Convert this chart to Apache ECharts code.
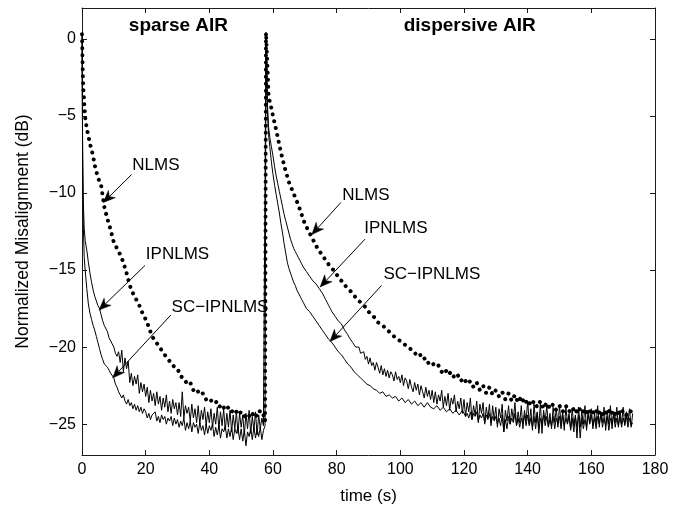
<!DOCTYPE html>
<html><head><meta charset="utf-8">
<script src="https://cdn.jsdelivr.net/npm/echarts@6/dist/echarts.min.js"></script>
<style>html,body{margin:0;padding:0;background:#fff}#c{width:673px;height:510px}</style>
</head><body><div id="c"></div>
<script>
// ---- data (time in s, normalized misalignment in dB) ----
// sample times of the two solid curves (IPNLMS, SC-IPNLMS)
const timeSolid = [0,0.2,0.4,0.7,
 1,1.5,2,2.5,3,3.5,4,4.5,5,5.5,6,6.5,7,7.5,8,8.5,9,9.5,
 10,10.5,11,11.5,12,12.5,13,13.5,14,14.5,15,15.5,16,16.5,17,17.5,18,18.5,19,19.5,
 20,20.5,21,21.5,22,22.5,23,23.5,24,24.5,25,25.5,26,26.5,27,27.5,28,28.5,29,29.5,
 30,30.5,31,31.5,32,32.5,33,33.5,34,34.5,35,35.5,36,36.5,37,37.5,38,38.5,39,39.5,
 40,40.5,41,41.5,42,42.5,43,43.5,44,44.5,45,45.5,46,46.5,47,47.5,48,48.5,49,49.5,
 50,50.5,51,51.5,52,52.5,53,53.5,54,54.5,55,55.5,56,56.5,57,57.5,
 57.8,
 58.2,58.6,59,59.5,
 60,60.5,61,61.5,62,62.5,63,63.5,64,64.5,65,65.5,66,66.5,67,67.5,68,68.5,69,69.5,
 70,70.5,71,71.5,72,72.5,73,73.5,74,74.5,75,75.5,76,76.5,77,77.5,78,78.5,79,79.5,
 80,80.5,81,81.5,82,82.5,83,83.5,84,84.5,85,85.5,86,86.5,87,87.5,88,88.5,89,89.5,
 90,90.5,91,91.5,92,92.5,93,93.5,94,94.5,95,95.5,96,96.5,97,97.5,98,98.5,99,99.5,
 100,100.5,101,101.5,102,102.5,103,103.5,104,104.5,105,105.5,106,106.5,107,107.5,108,108.5,109,109.5,
 110,110.5,111,111.5,112,112.5,113,113.5,114,114.5,115,115.5,116,116.5,117,117.5,118,118.5,119,119.5,
 120,120.5,121,121.5,122,122.5,123,123.5,124,124.5,125,125.5,126,126.5,127,127.5,128,128.5,129,129.5,
 130,130.5,131,131.5,132,132.5,133,133.5,134,134.5,135,135.5,136,136.5,137,137.5,138,138.5,139,139.5,
 140,140.5,141,141.5,142,142.5,143,143.5,144,144.5,145,145.5,146,146.5,147,147.5,148,148.5,149,149.5,
 150,150.5,151,151.5,152,152.5,153,153.5,154,154.5,155,155.5,156,156.5,157,157.5,158,158.5,159,159.5,
 160,160.5,161,161.5,162,162.5,163,163.5,164,164.5,165,165.5,166,166.5,167,167.5,168,168.5,169,169.5,
 170,170.5,171,171.5,172,172.5,173];

const ipnlms = [0.3,-7.0,-10.5,-12.3,
 -13.1,-13.7,-14.5,-15.2,-15.8,-16.3,-16.7,-17.0,-17.3,-17.5,-17.9,-18.3,-18.6,-18.7,-19.0,-19.4,-19.6,-19.7,
 -20.0,-20.4,-20.6,-20.3,-21.0,-20.2,-21.6,-20.7,-21.4,-20.9,-22.3,-21.7,-22.5,-21.9,-22.4,-21.8,-23.0,-22.3,-22.9,-22.4,
 -23.2,-22.6,-23.6,-22.8,-23.5,-23.0,-23.8,-22.9,-23.7,-23.2,-24.1,-23.3,-23.9,-23.1,-24.2,-23.5,-24.3,-23.4,-24.0,-23.6,
 -24.4,-23.6,-24.5,-22.9,-24.6,-23.8,-24.3,-23.9,-24.8,-23.7,-24.6,-24.0,-24.9,-23.8,-25.0,-24.1,-24.7,-23.9,-25.1,-24.2,
 -24.9,-24.0,-25.2,-24.3,-25.0,-23.9,-25.3,-24.2,-25.1,-24.0,-25.4,-24.3,-25.2,-24.1,-25.5,-24.4,-25.3,-24.2,-25.6,-24.3,
 -25.2,-24.4,-25.7,-24.3,-25.3,-24.1,-25.6,-24.5,-25.4,-24.2,-25.7,-24.4,-25.3,-24.6,-25.1,-25.0,
 0.4,
 -4.0,-5.7,-6.4,-7.0,
 -7.6,-8.3,-8.9,-9.4,-9.9,-10.4,-10.9,-11.4,-11.8,-12.2,-12.6,-13.0,-13.3,-13.6,-13.8,-14.0,-14.2,-14.4,-14.6,-14.8,
 -14.9,-15.1,-15.2,-15.4,-15.5,-15.7,-15.8,-15.9,-16.0,-16.2,-16.3,-16.5,-16.7,-16.9,-17.1,-17.3,-17.5,-17.7,-17.8,-18.0,
 -18.1,-18.3,-18.4,-18.5,-18.7,-18.9,-19.0,-19.2,-19.4,-19.4,-19.7,-19.6,-20.0,-20.1,-20.0,-20.4,-20.5,-20.3,-20.8,-20.6,
 -21.1,-20.7,-21.2,-21.0,-21.5,-21.0,-21.3,-21.7,-21.2,-21.8,-21.4,-21.9,-21.5,-22.0,-21.6,-21.8,-22.2,-21.6,-22.1,-21.9,
 -22.3,-21.8,-22.5,-22.0,-22.2,-22.7,-22.1,-22.6,-22.9,-22.3,-22.8,-22.4,-23.1,-22.5,-22.9,-23.3,-22.6,-23.2,-22.8,-23.4,
 -22.8,-23.6,-22.9,-23.7,-23.1,-23.5,-22.8,-23.9,-23.2,-23.8,-23.0,-24.1,-23.3,-23.7,-23.1,-24.2,-23.5,-24.0,-23.3,-24.3,
 -23.4,-24.5,-23.6,-24.2,-23.3,-24.7,-23.8,-24.4,-23.5,-24.9,-23.7,-24.3,-23.6,-25.0,-23.9,-24.6,-23.7,-25.1,-23.8,-24.7,
 -23.9,-25.2,-24.0,-24.6,-23.7,-25.5,-24.1,-24.8,-23.8,-25.0,-24.0,-24.7,-23.6,-25.1,-24.2,-24.9,-23.8,-25.3,-24.1,-24.8,
 -23.5,-25.0,-24.0,-25.4,-23.7,-24.9,-24.2,-25.2,-23.6,-25.6,-24.1,-24.8,-23.8,-25.1,-24.3,-25.3,-23.9,-24.9,-24.0,-25.2,
 -23.8,-25.0,-24.2,-25.4,-23.9,-24.9,-24.3,-25.3,-24.0,-25.1,-24.4,-25.9,-23.9,-25.2,-24.2,-25.0,-23.8,-25.4,-24.1,-24.9,
 -24.0,-25.3,-24.3,-25.0,-23.8,-25.2,-24.2,-24.9,-23.9,-25.4,-24.1,-25.0,-23.8,-25.3,-24.2,-24.9,-23.9,-25.2,-24.1,-25.0,
 -23.9,-25.1,-24.2,-24.9,-24.0,-25.2,-24.3];

const scIpnlms = [0.3,-8.0,-12.0,-14.2,
 -15.0,-16.2,-17.2,-17.8,-18.2,-18.6,-18.9,-19.3,-19.7,-20.1,-20.5,-20.8,-21.1,-21.0,-21.3,-21.5,-21.7,-21.6,
 -22.0,-22.4,-22.6,-22.9,-23.0,-23.3,-23.1,-23.5,-23.7,-23.4,-23.8,-23.6,-24.0,-23.7,-24.1,-23.8,-24.2,-23.9,-24.3,-24.0,
 -24.2,-24.6,-24.3,-24.7,-24.4,-24.5,-24.2,-24.8,-24.5,-24.9,-24.4,-24.7,-24.5,-25.0,-24.6,-24.8,-24.5,-25.1,-24.6,-25.0,
 -24.7,-25.2,-24.8,-25.1,-24.6,-25.4,-24.9,-25.3,-24.8,-25.5,-24.9,-25.2,-25.0,-25.6,-24.9,-25.4,-25.1,-25.7,-25.0,-25.6,
 -25.1,-25.4,-25.0,-25.8,-25.2,-25.7,-25.1,-25.9,-25.3,-25.5,-25.1,-25.9,-25.3,-25.8,-25.2,-26.0,-25.3,-25.6,-25.2,-26.0,
 -25.3,-26.1,-25.4,-26.4,-25.5,-25.8,-25.3,-26.0,-25.2,-25.9,-25.3,-25.8,-25.2,-26.0,-25.4,-25.1,
 0.4,
 -4.5,-6.2,-7.0,-8.0,
 -8.8,-9.5,-10.1,-10.7,-11.3,-12.0,-12.6,-13.3,-13.9,-14.5,-14.9,-15.2,-15.5,-15.8,-16.0,-16.3,-16.5,-16.7,-16.9,-17.1,
 -17.3,-17.5,-17.6,-17.7,-17.8,-18.0,-18.1,-18.3,-18.4,-18.6,-18.7,-18.9,-19.0,-19.2,-19.3,-19.5,-19.6,-19.7,-19.8,-20.0,
 -20.1,-20.3,-20.4,-20.5,-20.6,-20.8,-20.9,-21.1,-21.2,-21.3,-21.4,-21.6,-21.7,-21.8,-21.9,-22.0,-22.1,-22.2,-22.3,-22.4,
 -22.5,-22.5,-22.6,-22.7,-22.8,-22.8,-22.9,-23.0,-23.1,-22.9,-23.0,-23.2,-23.2,-23.1,-23.1,-23.3,-23.4,-23.2,-23.3,-23.5,
 -23.5,-23.3,-23.4,-23.6,-23.6,-23.4,-23.4,-23.7,-23.6,-23.5,-23.5,-23.8,-23.7,-23.6,-23.6,-23.9,-23.8,-23.6,-23.7,-23.9,
 -23.8,-24.0,-23.9,-23.8,-23.8,-24.1,-24.0,-23.9,-23.9,-24.2,-24.1,-24.0,-24.0,-24.3,-24.2,-24.1,-24.1,-24.4,-24.3,-24.1,
 -24.2,-24.5,-24.3,-24.6,-24.2,-24.7,-24.3,-24.5,-24.2,-24.8,-24.4,-24.6,-24.3,-24.9,-24.4,-24.7,-24.3,-24.9,-24.5,-24.8,
 -24.5,-25.0,-24.6,-25.1,-24.4,-25.5,-24.7,-25.3,-24.5,-25.0,-24.6,-24.9,-24.3,-25.1,-24.6,-25.2,-24.6,-25.0,-24.4,-25.1,
 -24.4,-25.1,-24.6,-25.2,-24.5,-25.3,-24.3,-25.6,-24.6,-25.0,-24.4,-25.1,-24.5,-25.2,-24.7,-25.1,-24.5,-25.3,-24.6,-25.0,
 -24.5,-25.3,-24.4,-25.1,-24.6,-25.0,-24.5,-25.4,-24.6,-25.5,-24.5,-25.2,-24.4,-25.9,-24.6,-25.3,-24.7,-25.2,-24.4,-25.0,
 -24.4,-25.1,-24.6,-25.3,-24.5,-25.0,-24.3,-25.2,-24.6,-25.1,-24.5,-25.4,-24.6,-25.0,-24.4,-25.2,-24.6,-25.1,-24.5,-25.2,
 -24.6,-25.0,-24.5,-25.2,-24.6,-25.1,-24.9];

// sample times of the dotted NLMS curve
const timeNlms = [0,0.2,0.4,0.7,1,1.5,2,2.5,3,3.5,4,
 5,6,7,8,9,10,11,12,13,14,
 15,16,17,18,19,20,21,22,23,24,
 25,26,27,28,29,30,31,32,33,34,
 35,36,37,38,39,40,41,42,43,44,
 45,46,47,48,49,50,51,52,53,54,
 55,56,57,
 57.5,
 57.8,
 58.2,58.6,59,59.5,60,
 61,62,63,64,65,66,67,68,69,70,
 71,72,73,74,75,76,77,78,79,80,
 81,82,83,84,85,86,87,88,89,90,
 91,92,93,94,95,96,97,98,99,100,
 101,102,103,104,105,106,107,108,109,110,
 111,112,113,114,115,116,117,118,119,120,
 121,122,123,124,125,126,127,128,129,130,
 131,132,133,134,135,136,137,138,139,140,
 141,142,143,144,145,146,147,148,149,150,
 151,152,153,154,155,156,157,158,159,160,
 161,162,163,164,165,166,167,168,169,170,
 171,172,173];

const nlms = [0.3,-1.8,-3.2,-4.1,-5.1,-5.8,-6.3,-6.8,-7.2,-7.6,-8.2,
 -9.0,-9.5,-10.9,-11.7,-12.4,-13.2,-13.6,-14.0,-14.5,-15.2,
 -16.0,-16.5,-16.9,-17.3,-17.8,-18.2,-18.7,-19.3,-19.6,-19.9,
 -20.2,-20.5,-20.8,-21.0,-21.3,-21.4,-21.9,-22.0,-22.4,-22.3,
 -22.8,-22.7,-23.1,-23.0,-23.4,-23.3,-23.6,-23.5,-23.9,-23.7,
 -24.1,-23.9,-24.2,-24.0,-24.4,-24.2,-24.5,-24.3,-24.6,-24.2,
 -24.5,-24.1,-24.4,
 -24.8,
 0.4,
 -1.5,-3.6,-4.1,-4.5,-5.0,
 -5.9,-6.9,-7.8,-8.6,-9.3,-9.8,-10.3,-10.8,-11.4,-12.0,
 -12.4,-12.8,-13.2,-13.6,-13.9,-14.2,-14.5,-14.8,-15.0,-15.3,
 -15.6,-15.8,-16.1,-16.3,-16.5,-16.8,-17.0,-17.2,-17.4,-17.7,
 -17.9,-18.1,-18.4,-18.5,-18.7,-18.9,-19.1,-19.3,-19.5,-19.6,
 -19.8,-19.9,-20.1,-20.2,-20.5,-20.4,-20.8,-20.7,-21.1,-21.0,
 -21.3,-21.2,-21.6,-21.4,-21.8,-21.6,-22.0,-21.8,-22.2,-22.0,
 -22.4,-22.2,-22.6,-22.3,-22.8,-22.5,-23.0,-22.6,-23.1,-22.8,
 -23.2,-22.9,-23.4,-23.0,-23.5,-23.1,-23.6,-23.2,-23.7,-23.4,
 -23.8,-23.5,-23.9,-23.5,-24.0,-23.6,-24.0,-23.7,-24.1,-23.8,
 -24.2,-23.8,-24.2,-23.9,-24.3,-23.9,-24.3,-24.0,-24.4,-24.0,
 -24.4,-24.0,-24.5,-24.1,-24.4,-24.0,-24.5,-24.1,-24.4,-24.1,
 -24.4,-24.1,-24.3];

const xTicks = {min: 0, max: 180, interval: 20};
const yTickValues = [-25, -20, -15, -10, -5, 0];
const yRange = {min: -27, max: 2};

// annotations (data coordinates)
const annText  = ['NLMS', 'IPNLMS', 'SC\u2212IPNLMS', 'NLMS', 'IPNLMS', 'SC\u2212IPNLMS'];
const annLabel = [[23.2,-8.18],[30.0,-14.0],[43.35,-17.39],[89.2,-10.14],[98.6,-12.3],[109.9,-15.26]];
const annFrom  = [[15.6,-8.8],[19.8,-14.7],[27.9,-17.92],[81.3,-10.62],[88.9,-13.0],[94.1,-16.0]];
const annTip   = [[6.7,-10.62],[5.34,-17.6],[9.64,-22.0],[72.2,-12.7],[74.8,-16.1],[77.9,-19.64]];
const panelTitles = ['sparse AIR', 'dispersive AIR'];
const panelTitlePos = [[30.3, 0.86], [121.8, 0.84]];

// ---- chart ----
const FONT = '"Liberation Sans", Arial, Helvetica, sans-serif';
const AX = '#1a1a1a';
const fmtY = v => (v < 0 ? '\u2212' : '') + Math.abs(v);
const pairs = (ts, arr) => ts.map((t, i) => [t, arr[i]]);

const chart = echarts.init(document.getElementById('c'), null, {renderer: 'canvas'});
const baseX = {
  type: 'value', min: xTicks.min, max: xTicks.max, interval: xTicks.interval,
  axisLine: {show: true, onZero: false, lineStyle: {color: AX, width: 1}},
  axisTick: {show: true, inside: true, length: 5, lineStyle: {color: AX, width: 1}},
  splitLine: {show: false}
};
const baseY = {
  type: 'value', min: yRange.min, max: yRange.max,
  axisLine: {show: true, onZero: false, lineStyle: {color: AX, width: 1}},
  axisTick: {show: true, inside: true, length: 5, customValues: yTickValues, lineStyle: {color: AX, width: 1}},
  splitLine: {show: false}
};
const option = {
  animation: false,
  backgroundColor: '#fff',
  grid: {left: 82, right: 18, top: 8, bottom: 51, containLabel: false},
  xAxis: [
    Object.assign({}, baseX, {
      position: 'bottom',
      axisLabel: {color: '#000', fontSize: 16, fontFamily: FONT, margin: 7},
      name: 'time (s)', nameLocation: 'middle', nameGap: 33,
      nameTextStyle: {color: '#000', fontSize: 17, fontFamily: FONT}
    }),
    Object.assign({}, baseX, {position: 'top', axisLabel: {show: false}})
  ],
  yAxis: [
    Object.assign({}, baseY, {
      position: 'left',
      axisLabel: {color: '#000', fontSize: 16, fontFamily: FONT, margin: 6, customValues: yTickValues, formatter: fmtY},
      name: 'Normalized Misalignment (dB)', nameLocation: 'middle', nameGap: 50,
      nameTextStyle: {color: '#000', fontSize: 17.5, fontFamily: FONT}
    }),
    Object.assign({}, baseY, {position: 'right', axisLabel: {show: false}})
  ],
  series: [
    {name: 'IPNLMS', type: 'line', data: pairs(timeSolid, ipnlms), symbol: 'none', silent: true,
     lineStyle: {color: '#000', width: 1}},
    {name: 'SC-IPNLMS', type: 'line', data: pairs(timeSolid, scIpnlms), symbol: 'none', silent: true,
     lineStyle: {color: '#000', width: 1}},
    {name: 'NLMS', type: 'line', data: pairs(timeNlms, nlms), symbol: 'none', silent: true,
     lineStyle: {color: '#000', width: 4, type: [0.01, 7], cap: 'round'}}
  ]
};
chart.setOption(option);

function drawAnnotations() {
  const g = [];
  const px = p => chart.convertToPixel({gridIndex: 0}, p);
  for (let i = 0; i < annText.length; i++) {
    const a = px(annFrom[i]), b = px(annTip[i]), c = px(annLabel[i]);
    const dx = b[0] - a[0], dy = b[1] - a[1], L = Math.hypot(dx, dy);
    const ux = dx / L, uy = dy / L, nx = -uy, ny = ux;
    const len = 12, hw = 5, notch = 3.5;
    const bx = b[0] - ux * len, by = b[1] - uy * len;
    const mx = b[0] - ux * (len - notch), my = b[1] - uy * (len - notch);
    g.push({type: 'line', silent: true, shape: {x1: a[0], y1: a[1], x2: mx, y2: my},
            style: {stroke: '#000', lineWidth: 1}});
    g.push({type: 'polygon', silent: true,
            shape: {points: [[b[0], b[1]], [bx + nx * hw, by + ny * hw], [mx, my], [bx - nx * hw, by - ny * hw]]},
            style: {fill: '#000', stroke: '#000', lineWidth: 0.5}});
    g.push({type: 'text', silent: true, x: c[0], y: c[1],
            style: {text: annText[i], fontSize: 17, fontFamily: FONT, fill: '#000', align: 'center', verticalAlign: 'middle'}});
  }
  for (let i = 0; i < panelTitles.length; i++) {
    const c = px(panelTitlePos[i]);
    g.push({type: 'text', silent: true, x: c[0], y: c[1],
            style: {text: panelTitles[i], fontSize: 19, fontWeight: 'bold', fontFamily: FONT, fill: '#000', align: 'center', verticalAlign: 'middle'}});
  }
  chart.setOption({graphic: g});
}
drawAnnotations();
</script></body></html>
